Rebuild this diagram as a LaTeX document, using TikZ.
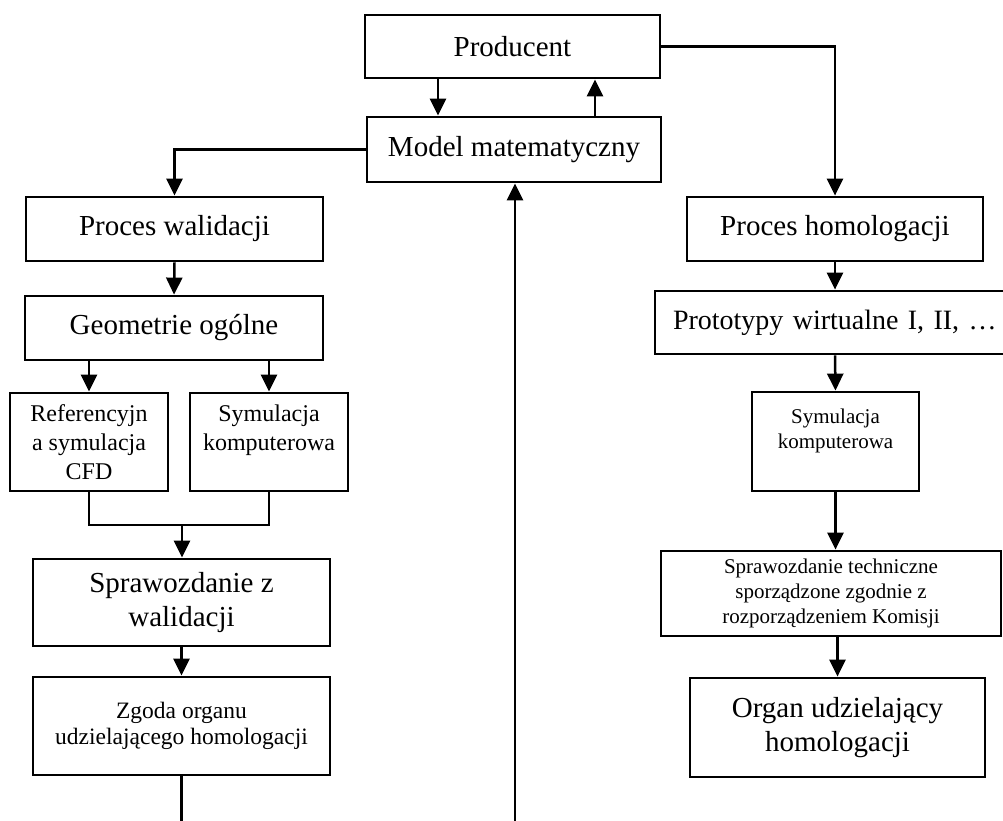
\documentclass[tikz,border=0pt]{standalone}
\usepackage{fontspec}
\setmainfont{Liberation Serif}
\usetikzlibrary{arrows.meta}
\begin{document}
\begin{tikzpicture}[x=1pt,y=-1pt,
  box/.style={draw, line width=2.8pt, rectangle, inner sep=0pt, align=center},
  big/.style={font=\fontsize{29}{34}\selectfont},
  mid/.style={font=\fontsize{24}{29}\selectfont},
  midb/.style={font=\fontsize{23.5}{26}\selectfont},
  small/.style={font=\fontsize{21}{25}\selectfont},
  conn/.style={line width=2.5pt},
  arr/.style={conn, -{Triangle[width=16pt,length=17pt]}}]
\useasboundingbox (0,0) rectangle (1003,820);
\fill[white] (0,0) rectangle (1003,820);
% nodes
\node[box,big,minimum width=295pt,minimum height=63pt] (prod) at (512.5,46.5) {Producent};
\node[box,big,minimum width=294pt,minimum height=65pt] (model) at (514,149.5) {Model matematyczny};
\node[box,big,minimum width=297pt,minimum height=64pt] (walid) at (174.5,229) {Proces walidacji};
\node[box,big,minimum width=296pt,minimum height=64pt] (homol) at (835,229) {Proces homologacji};
\node[box,big,minimum width=298pt,minimum height=64pt] (geom) at (174,328) {Geometrie ogólne};
\node[box,font=\fontsize{28}{34}\selectfont,minimum height=63pt,text width=384pt,inner xsep=18pt,align=left] (proto) at (865,322.5) {\mbox{Prototypy wirtualne I, II, …}};
\node[box,mid,minimum width=158pt,minimum height=98pt] (ref) at (89,442) {Referencyjn\\a symulacja\\CFD};
\node[box,mid,minimum width=158pt,minimum height=98pt] (syml) at (269,442) {Symulacja\\komputerowa\\\mbox{}};
\node[box,small,minimum width=167pt,minimum height=99pt] (symr) at (835.5,441.5) {Symulacja\\komputerowa\\\mbox{}};
\node[box,big,minimum width=297pt,minimum height=87pt] (sprw) at (181.5,602.5) {Sprawozdanie z\\walidacji};
\node[box,small,minimum width=340pt,minimum height=85pt] (sprt) at (831,593.5) {Sprawozdanie techniczne\\sporządzone zgodnie z\\rozporządzeniem Komisji};
\node[box,midb,minimum width=297pt,minimum height=98pt] (zgoda) at (181.5,726) {Zgoda organu\\udzielającego homologacji};
\node[box,big,minimum width=295pt,minimum height=99pt] (organ) at (837.5,727.5) {Organ udzielający\\homologacji};
% helper coordinates
\coordinate (xa) at (438,0);
\coordinate (xb) at (595,0);
\coordinate (xc) at (835,0);
\coordinate (bot) at (515,826);
\coordinate (j) at (182,525);
% connectors
\draw[arr] (xa |- prod.south) -- (xa |- model.north);
\draw[arr] (xb |- model.north) -- (xb |- prod.south);
\draw[arr] (prod.east) -| (homol.north);
\draw[arr] (model.west) -| (walid.north);
\draw[arr] (bot) -- (bot |- model.south);
\draw[arr] (walid.south) -- (geom.north);
\draw[arr] (ref.north |- geom.south) -- (ref.north);
\draw[arr] (syml.north |- geom.south) -- (syml.north);
\draw[conn] (ref.south) |- (j) -| (syml.south);
\draw[arr] (j) -- (j |- sprw.north);
\draw[arr] (sprw.south) -- (zgoda.north);
\draw[conn] (zgoda.south) -- (zgoda.south |- bot);
\draw[arr] (homol.south) -- (xc |- proto.north);
\draw[arr] (xc |- proto.south) -- (symr.north);
\draw[arr] (symr.south) -- (symr.south |- sprt.north);
\draw[arr] (organ.north |- sprt.south) -- (organ.north);
\end{tikzpicture}
\end{document}
